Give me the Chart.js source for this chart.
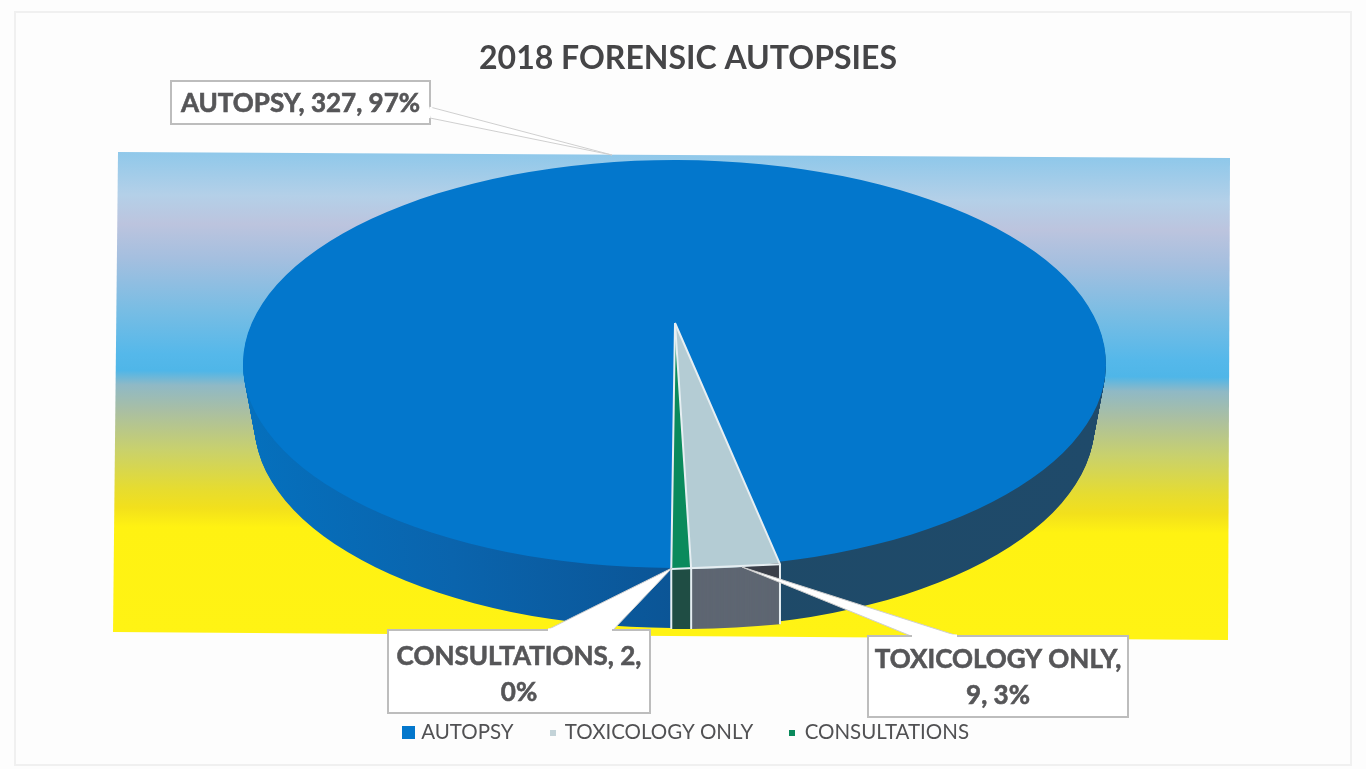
<!DOCTYPE html>
<html lang="en-US">

<head>
	<meta charset="utf-8">
	<title>2018 Forensic Autopsies</title>
	<script src="https://cdn.jsdelivr.net/npm/chart.js@4"></script>
	<style>
		html, body { margin: 0; padding: 0; background: #fdfdfd; overflow: hidden; }
		canvas { display: block; filter: blur(0.5px); }
	</style>
</head>

<body>
	<canvas id="chart" width="1366" height="769"></canvas>
	<script>
		const categories = ['AUTOPSY', 'TOXICOLOGY ONLY', 'CONSULTATIONS'];
		const values = [327, 9, 2];
		const percentLabels = ['97%', '3%', '0%'];
		const topColors = ['#0377cc', '#b4ccd4', '#0a8a5c'];
		const wallColors = ['#0b5ea8', '#5e6672', '#1f4d44'];
		const markerSizes = [13, 6, 6];

		const TEXT_GREY = '#565658';
		const BOX_FONT = 'bold 26px Lato';

		// the picture is a tilted 3d pie: canvas can only do affine, so the big slice sits on
		// its ellipse and the two small slices get their own (lower) apex
		const ELLIPSE = { x: 674.5, y: 364, rx: 431.5, ry: 204 };
		const WEDGE = { x: 675, y: 323, rx: 535, ry: 246 };
		const DEPTH = 60;
		const BOTTOM_RX = 420; // perspective, the lower rim is a bit narrower

		function place(ctx, arc, frame, dy) {
			ctx.translate(frame.x, frame.y + dy);
			ctx.scale(frame.rx / arc.outerRadius, frame.ry / arc.outerRadius);
			ctx.translate(-arc.x, -arc.y);
		}

		function fillArc(ctx, arc, frame, dy, color) {
			const saved = arc.options;
			arc.options = {
				backgroundColor: color, borderColor: color, borderWidth: 0, borderAlign: 'center',
				borderJoinStyle: 'round', borderRadius: 0, offset: 0, spacing: 0, circular: true
			};
			ctx.save();
			place(ctx, arc, frame, dy);
			arc.draw(ctx);
			ctx.restore();
			arc.options = saved;
		}

		// screen point on the rim of a wedge at a chart.js angle
		function rimPoint(angle, frame) {
			return { x: frame.x + Math.cos(angle) * frame.rx, y: frame.y + Math.sin(angle) * frame.ry };
		}

		const backdropPlugin = {
			id: 'backdrop',
			beforeDraw(chart) {
				const ctx = chart.ctx;
				ctx.save();
				ctx.strokeStyle = '#f0f0f0';
				ctx.lineWidth = 2;
				ctx.strokeRect(15, 12, 1336, 753);

				const grad = ctx.createLinearGradient(677, 155, 674, 636);
				const stops = [
					[0, '#8fc8ea'], [0.09, '#b4d0e8'], [0.15, '#bcc4de'], [0.22, '#a5bfdf'],
					[0.33, '#78bde4'], [0.42, '#55b8ea'], [0.455, '#4fb6e8'], [0.485, '#8fb9c6'],
					[0.54, '#aabfa2'], [0.62, '#c9d16c'], [0.7, '#e6dc30'], [0.74, '#f2e01c'],
					[0.78, '#fff212'], [1, '#fff314']
				];
				stops.forEach(s => grad.addColorStop(s[0], s[1]));
				ctx.fillStyle = grad;
				ctx.beginPath();
				ctx.moveTo(118, 152);
				ctx.lineTo(1230, 158);
				ctx.lineTo(1228, 640);
				ctx.lineTo(113, 632);
				ctx.closePath();
				ctx.fill();
				ctx.restore();
			}
		};

		const pie3dPlugin = {
			id: 'pie3d',
			beforeDatasetDraw(chart, args) {
				const ctx = chart.ctx;
				const arcs = args.meta.data;
				const big = arcs[0];
				const sx = ELLIPSE.rx / big.outerRadius;
				const localX = px => big.x + (px - ELLIPSE.x) / sx;

				const wall = ctx.createLinearGradient(localX(243), 0, localX(1106), 0);
				const pos = px => (px - 243) / (1106 - 243);
				wall.addColorStop(0, '#0570bd');
				wall.addColorStop(pos(450), '#0a64ad');
				wall.addColorStop(pos(672), '#0b5596');
				wall.addColorStop(pos(673), '#1e4a68');
				wall.addColorStop(1, '#1f4a6a');

				// whole ellipse under the wedges, the gap of the big slice is hidden by them
				const start = big.startAngle, end = big.endAngle, circ = big.circumference;
				big.endAngle = start + Math.PI * 2;
				big.circumference = Math.PI * 2;
				for (let dy = DEPTH; dy > 0; dy--) {
					const rx = ELLIPSE.rx + (BOTTOM_RX - ELLIPSE.rx) * dy / DEPTH;
					fillArc(ctx, big, { x: ELLIPSE.x, y: ELLIPSE.y, rx: rx, ry: ELLIPSE.ry }, dy, wall);
				}
				fillArc(ctx, big, ELLIPSE, 0, topColors[0]);
				big.startAngle = start;
				big.endAngle = end;
				big.circumference = circ;

				for (let i = 1; i < arcs.length; i++) {
					for (let dy = DEPTH; dy > 0; dy--) {
						fillArc(ctx, arcs[i], WEDGE, dy, wallColors[i]);
					}
				}
				for (let i = 1; i < arcs.length; i++) {
					fillArc(ctx, arcs[i], WEDGE, 0, topColors[i]);
				}

				// dark shade above the toxicology leader
				ctx.save();
				ctx.fillStyle = '#3a3f49';
				ctx.beginPath();
				ctx.moveTo(742, 567);
				ctx.lineTo(779, 563);
				ctx.lineTo(779, 582);
				ctx.closePath();
				ctx.fill();
				ctx.restore();

				// white edges of the wedges
				const edgeAngles = [arcs[1].startAngle, arcs[2].startAngle, arcs[2].endAngle];
				ctx.save();
				ctx.strokeStyle = '#e6eef2';
				ctx.lineWidth = 2;
				ctx.lineJoin = 'round';
				edgeAngles.forEach(a => {
					const p = rimPoint(a, WEDGE);
					ctx.beginPath();
					ctx.moveTo(WEDGE.x, WEDGE.y);
					ctx.lineTo(p.x, p.y);
					ctx.lineTo(p.x, p.y + DEPTH);
					ctx.stroke();
				});
				const a = rimPoint(edgeAngles[0], WEDGE), b = rimPoint(edgeAngles[2], WEDGE);
				ctx.beginPath();
				ctx.moveTo(a.x, a.y);
				ctx.lineTo(b.x, b.y);
				ctx.stroke();
				ctx.restore();
				return false;
			}
		};

		const callouts = [
			{ i: 0, box: [171, 81, 259, 43], leader: [[430, 107], [612, 155], [430, 118]], shift: 0 },
			{ i: 1, box: [868, 636, 260, 81], leader: [[911, 636], [742, 567], [958, 636]], shift: 0 },
			{ i: 2, box: [388, 630, 262, 83], leader: [[547, 630], [672, 568], [613, 630]], shift: 2 }
		];
		const calloutRows = [
			i => [categories[i] + ', ' + values[i] + ', ' + percentLabels[i]],
			i => [categories[i] + ',', values[i] + ', ' + percentLabels[i]],
			i => [categories[i] + ', ' + values[i] + ',', percentLabels[i]]
		];

		const calloutPlugin = {
			id: 'callouts',
			afterDraw(chart) {
				const ctx = chart.ctx;
				ctx.save();
				callouts.forEach(c => {
					const [x, y, w, h] = c.box;
					ctx.fillStyle = '#ffffff';
					ctx.strokeStyle = '#cfcfcf';
					ctx.beginPath();
					c.leader.forEach((p, k) => k ? ctx.lineTo(p[0], p[1]) : ctx.moveTo(p[0], p[1]));
					ctx.fill();
					ctx.lineWidth = 1;
					ctx.stroke();
					ctx.strokeStyle = '#bdbdbd';
					ctx.fillRect(x, y, w, h);
					ctx.lineWidth = 2;
					ctx.strokeRect(x, y, w, h);
					// hide the box line where the leader comes in
					ctx.strokeStyle = '#ffffff';
					ctx.lineWidth = 3;
					const first = c.leader[0], last = c.leader[2];
					ctx.beginPath();
					ctx.moveTo(first[0] + 1, first[1]);
					ctx.lineTo(last[0] - 1, last[1]);
					ctx.stroke();

					const rows = calloutRows[c.i](c.i);
					ctx.fillStyle = TEXT_GREY;
					ctx.strokeStyle = TEXT_GREY;
					ctx.lineWidth = 0.6;
					ctx.font = BOX_FONT;
					ctx.textAlign = 'center';
					ctx.textBaseline = 'middle';
					rows.forEach((r, k) => {
						const ty = y + h / 2 + 1 + c.shift + (k - (rows.length - 1) / 2) * 36;
						ctx.fillText(r, x + w / 2, ty);
						ctx.strokeText(r, x + w / 2, ty);
					});
				});
				ctx.restore();
			}
		};

		function marker(size, color) {
			const m = document.createElement('canvas');
			m.width = size;
			m.height = size;
			const c = m.getContext('2d');
			c.fillStyle = color;
			c.fillRect(0, 0, size, size);
			return m;
		}

		new Chart(document.getElementById('chart').getContext('2d'), {
			type: 'pie',
			plugins: [backdropPlugin, pie3dPlugin, calloutPlugin],
			data: {
				labels: categories,
				datasets: [{
					data: values,
					backgroundColor: topColors,
					borderWidth: 0,
					rotation: 180.4
				}]
			},
			options: {
				responsive: false,
				animation: false,
				layout: { padding: { left: 10, right: 0, top: 8, bottom: 16 } },
				plugins: {
					tooltip: { enabled: false },
					title: {
						display: true,
						text: '2018 FORENSIC AUTOPSIES',
						color: '#454547',
						font: { family: 'Lato', size: 32, weight: 'bold' },
						padding: { top: 31, bottom: 10 }
					},
					legend: {
						position: 'bottom',
						labels: {
							color: '#515153',
							font: { family: 'Lato', size: 20.5 },
							usePointStyle: true,
							boxWidth: 4,
							padding: 37,
							generateLabels: () => categories.map((name, i) => ({
								text: name,
								index: i,
								pointStyle: marker(markerSizes[i], i === 1 ? '#c3d3d8' : topColors[i]),
								fontColor: '#515153',
								lineWidth: 0
							}))
						}
					}
				}
			}
		});
	</script>
</body>

</html>
